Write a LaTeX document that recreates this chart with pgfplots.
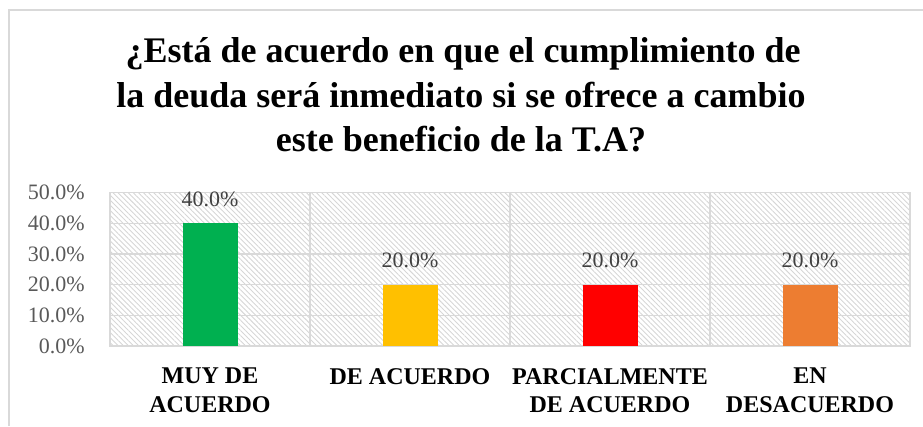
\documentclass[border=0pt]{standalone}
\usepackage{fontspec}
\setmainfont{Liberation Serif}
\usepackage{pgfplots}
\pgfplotsset{compat=1.18}
\usetikzlibrary{patterns.meta}
\definecolor{cgreen}{HTML}{00B050}
\definecolor{cyellow}{HTML}{FFC000}
\definecolor{cred}{HTML}{FF0000}
\definecolor{corange}{HTML}{ED7D31}
\definecolor{gridc}{HTML}{D9D9D9}
\definecolor{hatchc}{HTML}{D6D6D6}
\definecolor{tickc}{HTML}{595959}
\definecolor{labc}{HTML}{404040}
\begin{document}
\begin{tikzpicture}
\path[use as bounding box] (0pt,0pt) rectangle (923pt,426pt);
\draw[line width=1.5pt, color=gridc] (9pt,0pt) -- (9pt,416pt) -- (923pt,416pt);
\node[anchor=base, font=\fontsize{36}{41}\selectfont\bfseries] at (463pt,363pt) {¿Está de acuerdo en que el cumplimiento de};
\node[anchor=base, font=\fontsize{36}{41}\selectfont\bfseries] at (461pt,318pt) {la deuda será inmediato si se ofrece a cambio};
\node[anchor=base, font=\fontsize{36}{41}\selectfont\bfseries] at (461pt,274pt) {este beneficio de la T.A?};
\begin{axis}[
  at={(110pt,80pt)}, anchor=south west,
  scale only axis, width=800pt, height=153.3pt,
  xmin=-0.5, xmax=3.5, ymin=0, ymax=50,
  ybar, bar width=55pt, bar shift=0pt,
  xtick={0,1,2,3},
  xticklabels={{MUY DE\\ACUERDO},{DE ACUERDO},{PARCIALMENTE\\DE ACUERDO},{EN\\DESACUERDO}},
  minor xtick={0.5,1.5,2.5},
  xminorgrids, ymajorgrids, xmajorgrids=false,
  ytick={0,10,20,30,40,50},
  major tick length=0pt, minor tick length=0pt,
  /pgf/number format/assume math mode=true,
  yticklabel={\pgfmathprintnumber[fixed,fixed zerofill,precision=1]{\tick}\%},
  yticklabel style={font=\fontsize{22}{26}\selectfont, color=tickc, anchor=east, inner sep=0pt, xshift=-25pt},
  xticklabel style={font=\fontsize{24}{28.5}\selectfont\bfseries, align=center, anchor=north, inner sep=0pt, yshift=-22pt},
  axis line style={gridc, line width=1.5pt},
  grid style={gridc, line width=1.3pt},
  minor grid style={gridc, line width=1.3pt},
  axis background/.style={pattern={Lines[angle=-45,distance=3.6pt,line width=0.9pt]}, pattern color=hatchc},
  nodes near coords={\pgfmathprintnumber[fixed,fixed zerofill,precision=1]{\pgfplotspointmeta}\%},
  nodes near coords style={font=\fontsize{22}{26}\selectfont, color=labc, anchor=base, inner sep=0pt, yshift=17pt},
]
\addplot[fill=cgreen, draw=none] coordinates {(0,40)};
\addplot[fill=cyellow, draw=none] coordinates {(1,20)};
\addplot[fill=cred, draw=none] coordinates {(2,20)};
\addplot[fill=corange, draw=none] coordinates {(3,20)};
\end{axis}
\end{tikzpicture}
\end{document}
